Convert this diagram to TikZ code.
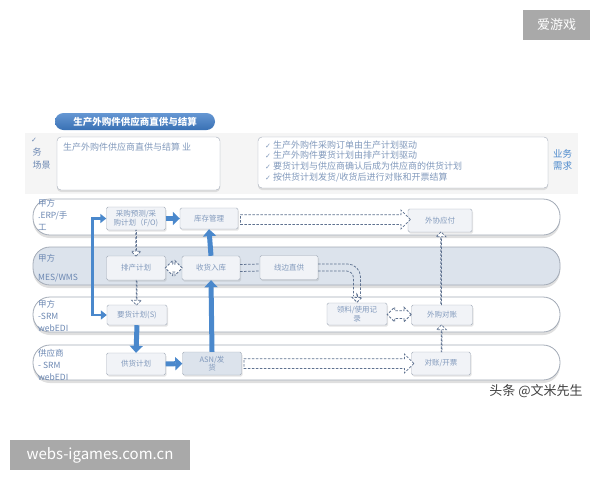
\documentclass[tikz,border=0pt]{standalone}
\usepackage{fontspec}
\setmainfont{Noto Sans CJK SC}
\newfontfamily\dejavu{DejaVu Sans}
\usetikzlibrary{arrows.meta,shadows,shapes.arrows,positioning}
\definecolor{titleblue}{HTML}{3F7DC8}
\definecolor{arrowblue}{HTML}{4A88CC}
\definecolor{boxgray}{HTML}{A3ACB9}
\definecolor{boxfill}{HTML}{F1F3F7}
\definecolor{boxtext}{HTML}{8199BC}
\definecolor{lanegray}{HTML}{A2AAB6}
\definecolor{lanefill}{HTML}{DCE3EC}
\definecolor{dashgray}{HTML}{5F7290}
\definecolor{labeltext}{HTML}{6B87B2}
\definecolor{wmgray}{HTML}{A9A9A9}
\newcommand{\chk}{{\dejavu\fontsize{7}{7}\selectfont ✓}}

\begin{document}
\begin{tikzpicture}[x=1pt,y=-1pt,
    lane/.style={draw=lanegray,fill=white,rounded corners=17pt,minimum width=527pt,line width=0.8pt,
      drop shadow={shadow xshift=0pt,shadow yshift=-3pt,opacity=0.25}},
    box/.style={draw=boxgray,fill=boxfill,rounded corners=1.5pt,text=boxtext,align=center,inner sep=1pt,
      font=\fontsize{7.5}{8.5}\selectfont,
      drop shadow={shadow xshift=1pt,shadow yshift=-1.5pt,opacity=0.2}},
    lanelabel/.style={anchor=north west,text=labeltext,align=left,inner sep=0pt,
      font=\fontsize{8.5}{12}\selectfont},
    solidarrow/.style={draw=arrowblue,line width=5pt,-{Triangle[length=7pt,width=13pt]}},
    bluelink/.style={draw=arrowblue,line width=2.5pt},
    dashlook/.style={draw=dashgray,line width=0.75pt,dash pattern=on 2.5pt off 1.5pt},
    hollow/.style={single arrow,dashlook,fill=white,inner xsep=0pt,inner ysep=4pt,
      single arrow head extend=4.5pt,minimum height=#1},
    hollowboth/.style={double arrow,dashlook,fill=white,inner xsep=0pt,inner ysep=3.5pt,
      double arrow head extend=3.5pt,minimum height=#1},
    wmark/.style={fill=wmgray,text=white,inner sep=0pt}]
  \useasboundingbox (0,0) rectangle (600,480);

  % watermarks
  \node[wmark,minimum width=67pt,minimum height=30pt,font=\fontsize{13}{13}\selectfont] (wmtop) at (556.5,25) {爱游戏};
  \node[wmark,minimum width=180pt,minimum height=30pt,font=\fontsize{15}{15}\selectfont] (wmbot) at (100,455) {webs-igames.com.cn};
  \node[text=black!75,font=\fontsize{13}{13}\selectfont,inner sep=0pt] (author) at (536,391) {头条 @文米先生};

  % top part
  \fill[black!4] (25,133) rectangle (578,194);
  \node[rounded corners=8.5pt,top color=titleblue!80!white,bottom color=titleblue!90!black,minimum width=160pt,
    minimum height=17pt,text=white,font=\fontsize{9.5}{9.5}\selectfont\bfseries] (title) at (135,121.5) {生产外购件供应商直供与结算};
  \node[draw=boxgray,fill=white,rounded corners=4pt,minimum width=163pt,minimum height=53pt,
    drop shadow={shadow xshift=0pt,shadow yshift=-2pt,opacity=0.2}] (scene) at (138.5,163.5) {};
  \node[anchor=west,text=boxtext,font=\fontsize{9}{9}\selectfont,inner sep=0pt] (scenetxt) at (63,147) {生产外购件供应商直供与结算 业};
  \node[lanelabel,text=labeltext,font=\fontsize{9}{13}\selectfont] (scenelbl) at (31,138) {\chk\\\,务\\\,场景};
  \node[draw=boxgray,fill=white,rounded corners=4pt,minimum width=290pt,minimum height=51pt,
    drop shadow={shadow xshift=0pt,shadow yshift=-2pt,opacity=0.2}] (need) at (403,162.5) {};
  \node[anchor=north west,text=boxtext,align=left,inner sep=0pt,font=\fontsize{9}{10.7}\selectfont] (needtxt) at (265,140.5) {%
    \chk\ 生产外购件采购订单由生产计划驱动\\
    \chk\ 生产外购件要货计划由排产计划驱动\\
    \chk\ 要货计划与供应商确认后成为供应商的供货计划\\
    \chk\ 按供货计划发货/收货后进行对账和开票结算};
  \node[lanelabel,text=arrowblue,font=\fontsize{9.5}{12}\selectfont] (needlbl) at (553,149) {业务\\需求};

  % lanes
  \node[lane,minimum height=36pt] (erp) at (296.5,217) {};
  \node[lane,fill=lanefill,minimum height=38pt] (mes) at (296.5,266) {};
  \node[lane,minimum height=35pt] (srm) at (296.5,314.5) {};
  \node[lane,minimum height=35pt] (sup) at (296.5,362.5) {};
  \node[lanelabel] at (38,199) {甲方\\.ERP/手\\工};
  \node[lanelabel] at (38,254) {甲方\\[7pt]MES/WMS};
  \node[lanelabel] at (38,300) {甲方\\-SRM\\webEDI};
  \node[lanelabel] at (38,349) {供应商\\- SRM\\webEDI};

  % boxes
  \node[box,minimum width=59pt,minimum height=23pt] (plan) at (136,218.5) {采购预测/采\\购计划（F/O)};
  \node[box,minimum width=58pt,minimum height=21pt] (stock) at (209,218.5) {库存管理};
  \node[box,minimum width=64pt,minimum height=23pt] (payable) at (440,220.5) {外协应付};
  \node[box,minimum width=59pt,minimum height=24pt] (sched) at (136,268) {排产计划};
  \node[box,minimum width=58pt,minimum height=24pt] (receive) at (211,268) {收货入库};
  \node[box,minimum width=58pt,minimum height=24pt] (line) at (289,267.5) {线边直供};
  \node[box,minimum width=60pt,minimum height=20pt] (demand) at (137,315) {要货计划(S)};
  \node[box,minimum width=60pt,minimum height=22pt] (usage) at (357,314) {领料/使用记\\录};
  \node[box,minimum width=61pt,minimum height=20pt] (recon) at (442,315) {外购对账};
  \node[box,minimum width=59pt,minimum height=22pt] (supply) at (136,364) {供货计划};
  \node[box,fill=lanefill,minimum width=59pt,minimum height=23pt] (asn) at (212,363.5) {ASN/发\\货};
  \node[box,minimum width=59pt,minimum height=23pt] (invoice) at (441,363.5) {对账/开票};

  % solid flows
  \draw[solidarrow] (plan.east) -- (stock.west);
  \draw[solidarrow] (receive.north) -- (stock.south);
  \draw[solidarrow] (asn.north) -- (receive.south);
  \draw[solidarrow] (supply.east) -- (asn.west);
  \draw[solidarrow] (demand.south) -- (supply.north);
  \draw[bluelink,{Triangle[length=6pt,width=9pt]}-{Triangle[length=6pt,width=9pt]}]
    (plan.west) -- ++(-14,0) |- (demand.west);

  % dashed flows
  \path (plan.south) -- node[hollow=26pt,shape border rotate=270] (a1) {} (sched.north);
  \path (sched.south) -- node[hollow=25pt,shape border rotate=270] (a2) {} (demand.north);
  \path (sched.east) -- node[hollowboth=17pt] (a3) {} (receive.west);
  \draw[dashlook] ([yshift=3.5pt]receive.east) -- ([yshift=3.5pt]line.west)
    ([yshift=-3.5pt]receive.east) -- ([yshift=-3.5pt]line.west);
  \path (stock.east) -- node[hollow=170pt,inner ysep=4.5pt] (a4) {} (payable.west);
  \draw[dashlook,rounded corners=13pt] ([yshift=3.5pt]line.east) -| ([xshift=3.5pt,yshift=7pt]usage.north);
  \draw[dashlook,rounded corners=7pt] ([yshift=-3.5pt]line.east) -| ([xshift=-3.5pt,yshift=7pt]usage.north);
  \node[hollow=9pt,inner ysep=3.5pt,shape border rotate=270,anchor=tip] (a5) at (usage.north) {};
  \path (usage.east) -- node[hollowboth=24pt] (a6) {} (recon.west);
  \path (recon.north) -- node[hollow=73pt,shape border rotate=90] (a7) {} (payable.south);
  \path (invoice.north) -- node[hollow=27pt,shape border rotate=90] (a8) {} (recon.south);
  \path (asn.east) -- node[hollow=170pt,inner ysep=4.5pt] (a9) {} (invoice.west);
\end{tikzpicture}
\end{document}
